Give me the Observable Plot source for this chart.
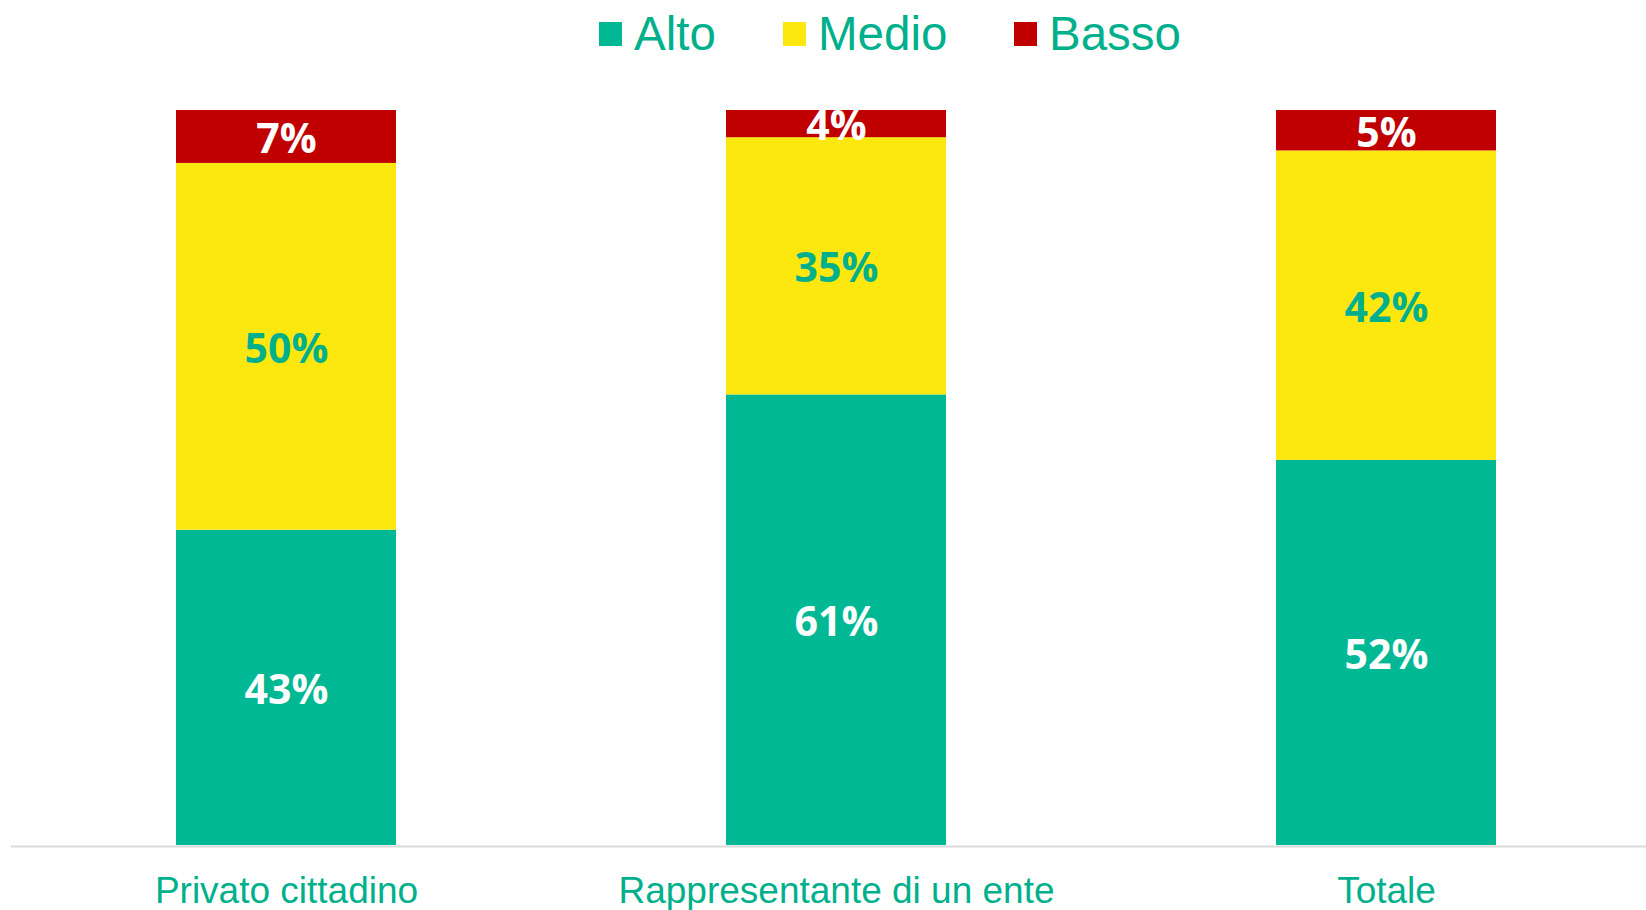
<!DOCTYPE html>
<html>
<head>
<meta charset="utf-8">
<script src="https://cdn.jsdelivr.net/npm/d3@7"></script>
<script src="https://cdn.jsdelivr.net/npm/@observablehq/plot@0.6"></script>
<style>
  html, body { margin: 0; padding: 0; background: #fff; }
  #wrap { width: 1646px; height: 910px; position: relative; overflow: hidden; }
  #legend { height: 67px; position: relative; font-family: "Liberation Sans", Arial, sans-serif; font-size: 47.5px; color: #00B08C; }
  .item { position: absolute; top: 0; height: 67px; display: flex; align-items: center; }
  .sw { width: 23px; height: 24px; margin-right: 12px; }
  #chart svg { display: block; }
</style>
</head>
<body>
<div id="wrap">
  <div id="legend"></div>
  <div id="chart"></div>
</div>
<script>
const categories = ["Privato cittadino", "Rappresentante di un ente", "Totale"];
const levels = ["Alto", "Medio", "Basso"];
const colors = ["#00B894", "#FCE80F", "#C00000"];
const labelColors = ["#FFFFFF", "#00B08C", "#FFFFFF"];
const alto  = [42.9, 61.3, 52.4];
const medio = [49.9, 35.0, 42.1];
const basso = [7.2, 3.7, 5.5];
const altoLabels  = ["43%", "61%", "52%"];
const medioLabels = ["50%", "35%", "42%"];
const bassoLabels = ["7%", "4%", "5%"];

const series = [alto, medio, basso];
const seriesLabels = [altoLabels, medioLabels, bassoLabels];
const data = [];
levels.forEach((lv, i) => {
  categories.forEach((c, j) => {
    data.push({category: c, level: lv, value: series[i][j], label: seriesLabels[i][j], labelColor: labelColors[i]});
  });
});

// legend
const legendLeft = [599, 783, 1014];
const legend = document.getElementById("legend");
levels.forEach((lv, i) => {
  const it = document.createElement("div");
  it.className = "item";
  it.style.left = legendLeft[i] + "px";
  const sw = document.createElement("span");
  sw.className = "sw";
  sw.style.background = colors[i];
  const tx = document.createElement("span");
  tx.textContent = lv;
  it.appendChild(sw); it.appendChild(tx);
  legend.appendChild(it);
});

const chart = Plot.plot({
  width: 1646,
  height: 843,
  marginTop: 43,
  marginBottom: 65,
  marginLeft: 11,
  marginRight: 0,
  x: {domain: categories, range: [11, 1661], paddingInner: 0.6, paddingOuter: 0.3, label: null},
  y: {domain: [0, 100], axis: null},
  color: {domain: levels, range: colors},
  style: {background: "transparent"},
  marks: [
    Plot.barY(data, Plot.stackY({x: "category", y: "value", z: "level", fill: "level", order: null})),
    Plot.ruleY([0], {stroke: "#D9D9D9", strokeWidth: 2, dy: 1}),
    Plot.text(data, Plot.stackY({x: "category", y: "value", z: "level", text: "label", fill: "labelColor", order: null,
      fontFamily: "'Open Sans', sans-serif", fontWeight: 700, fontSize: 41, dy: 3})),
    Plot.axisX({tickSize: 0, tickPadding: 31, fontSize: 37, fill: "#00B08C",
      fontFamily: "'Liberation Sans', Arial, sans-serif", label: null})
  ]
});
document.getElementById("chart").appendChild(chart);
</script>
</body>
</html>
